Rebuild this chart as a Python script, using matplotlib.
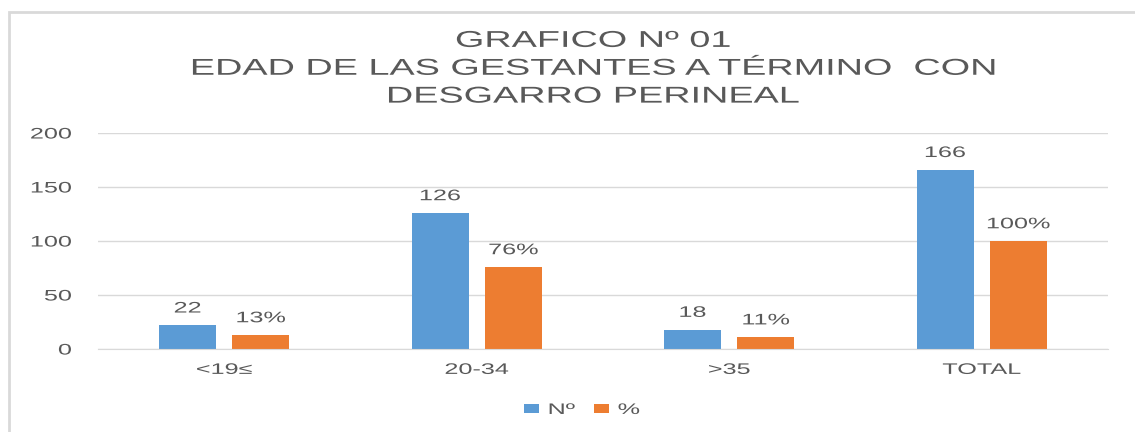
import matplotlib
matplotlib.use("Agg")
import matplotlib.pyplot as plt
import matplotlib.patheffects as patheffects
import numpy as np
from matplotlib.patches import Rectangle
from matplotlib.transforms import Affine2D

categories = ["<19≤", "20-34", ">35", "TOTAL"]
counts = [22, 126, 18, 166]
percents = [13, 76, 11, 100]
count_labels = ["22", "126", "18", "166"]
percent_labels = ["13%", "76%", "11%", "100%"]
yticks = [0, 50, 100, 150, 200]

title = "GRAFICO Nº 01\nEDAD DE LAS GESTANTES A TÉRMINO  CON\nDESGARRO PERINEAL"

colors = {"blue": "#5B9BD5", "orange": "#ED7D31", "text": "#595959", "grid": "#D9D9D9"}

# the original picture is stretched sideways, so the glyphs are too
SX = 1.65


class Stretch(patheffects.AbstractPathEffect):
    """Widen each text line around its left, centre or right edge."""

    def __init__(self, sx, anchor="center"):
        super().__init__()
        self.sx = sx
        self.anchor = anchor

    def draw_path(self, renderer, gc, tpath, affine, rgbFace=None):
        ext = tpath.get_extents()
        c = {"left": ext.x0, "center": (ext.x0 + ext.x1) / 2, "right": ext.x1}[self.anchor]
        t = Affine2D().translate(-c, 0).scale(self.sx, 1).translate(c, 0) + affine
        renderer.draw_path(gc, tpath, t, rgbFace)


plt.rcParams["font.family"] = ["Liberation Sans", "DejaVu Sans"]

fig = plt.figure(figsize=(11.35, 4.32), dpi=100)
ax = fig.add_axes([0.0863, 0.1921, 0.8899, 0.5])

x = np.arange(len(categories))
w = 0.226
off = 0.145
b1 = ax.bar(x - off, counts, w, color=colors["blue"], label="Nº")
b2 = ax.bar(x + off, percents, w, color=colors["orange"], label="%")

for bars, labels in [(b1, count_labels), (b2, percent_labels)]:
    for rect, lab in zip(bars, labels):
        t = ax.annotate(lab, (rect.get_x() + rect.get_width() / 2, rect.get_height()),
                        xytext=(0, 7), textcoords="offset points", ha="center",
                        va="bottom", fontsize=11, color=colors["text"])
        t.set_path_effects([Stretch(SX)])

ax.set_xlim(-0.5, len(categories) - 0.5)
ax.set_ylim(0, 200)
ax.set_yticks(yticks)
ax.set_xticks(x)
ax.set_xticklabels(categories)
ax.tick_params(axis="both", length=0, labelsize=11, labelcolor=colors["text"])
ax.tick_params(axis="x", pad=10)
ax.tick_params(axis="y", pad=19)
for lab in ax.get_xticklabels():
    lab.set_path_effects([Stretch(SX)])
for lab in ax.get_yticklabels():
    lab.set_path_effects([Stretch(SX, "right")])
ax.grid(axis="y", color=colors["grid"], lw=1)
ax.set_axisbelow(True)
for s in ["top", "right", "left"]:
    ax.spines[s].set_visible(False)
ax.spines["bottom"].set_color(colors["grid"])

tt = fig.text(0.5225, 0.842, title, ha="center", va="center", fontsize=16.5,
              color=colors["text"], linespacing=1.27)
tt.set_path_effects([Stretch(SX)])

leg = fig.legend(loc="center", bbox_to_anchor=(0.509, 0.051), ncol=2, frameon=False,
                 fontsize=11, handlelength=1.0, handleheight=0.55, columnspacing=1.86,
                 handletextpad=0.6, labelcolor=colors["text"])
for lab in leg.get_texts():
    lab.set_path_effects([Stretch(SX, "left")])

fig.patches.append(Rectangle((9 / 1135, -0.1), 2, (432 - 12) / 432 + 0.1,
                             transform=fig.transFigure, fill=False,
                             edgecolor=colors["grid"], lw=2))

fig.savefig("out.png", dpi=100, facecolor="white")
